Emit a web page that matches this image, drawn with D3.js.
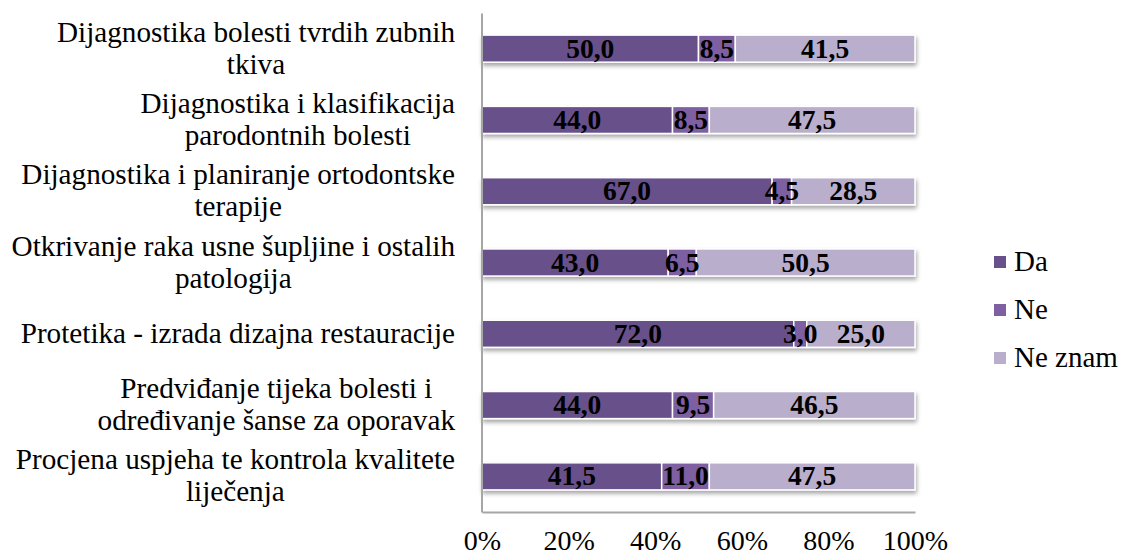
<!DOCTYPE html>
<html>
<head>
<meta charset="utf-8">
<script src="https://cdn.jsdelivr.net/npm/d3@7"></script>
<style>
  html, body { margin: 0; padding: 0; background: #ffffff; }
  svg { display: block; }
  text { font-family: "Liberation Serif", "Times New Roman", serif; }
</style>
</head>
<body>
<div id="chart"></div>
<script>
// ---- data ----
const categories = [
  ["Dijagnostika bolesti tvrdih zubnih", "tkiva"],
  ["Dijagnostika i klasifikacija", "parodontnih bolesti"],
  ["Dijagnostika i planiranje ortodontske", "terapije"],
  ["Otkrivanje raka usne šupljine i ostalih", "patologija"],
  ["Protetika - izrada dizajna restauracije"],
  ["Predviđanje tijeka bolesti i", "određivanje šanse za oporavak"],
  ["Procjena uspjeha te kontrola kvalitete", "liječenja"]
];
const seriesNames = ["Da", "Ne", "Ne znam"];
const daValues    = [50.0, 44.0, 67.0, 43.0, 72.0, 44.0, 41.5];
const neValues    = [8.5, 8.5, 4.5, 6.5, 3.0, 9.5, 11.0];
const neZnamValues= [41.5, 47.5, 28.5, 50.5, 25.0, 46.5, 47.5];
const xTicks = [0, 20, 40, 60, 80, 100];
const colors = ["#68518a", "#7d5fa2", "#b9aecc"];

// ---- layout ----
const W = 1126, H = 558;
const plot = { left: 482, right: 915, top: 13, bottom: 512 };
const FONT = "Liberation Serif, Times New Roman, serif";

const svg = d3.select("#chart").append("svg").attr("width", W).attr("height", H);

const defs = svg.append("defs");
const f = defs.append("filter").attr("id", "shadow")
  .attr("x", "-5%").attr("y", "-30%").attr("width", "110%").attr("height", "180%");
f.append("feDropShadow").attr("dx", 1).attr("dy", 3).attr("stdDeviation", 2)
  .attr("flood-color", "#000").attr("flood-opacity", 0.35);

const idx = d3.range(categories.length);
const y = d3.scaleBand().domain(idx).range([plot.top, plot.bottom]).paddingInner(0.62).paddingOuter(0.31);
const x = d3.scaleLinear().domain([0, 100]).range([plot.left, plot.right]);

const rows = idx.map(i => {
  const vals = [daValues[i], neValues[i], neZnamValues[i]];
  let acc = 0;
  return vals.map((v, s) => { const r = { i, s, x0: acc, x1: acc + v, v }; acc += v; return r; });
});

// bars
const gRows = svg.append("g").selectAll("g.row").data(rows).join("g").attr("class", "row")
  .attr("filter", "url(#shadow)");
gRows.selectAll("rect").data(d => d).join("rect")
  .attr("x", d => x(d.x0))
  .attr("y", d => y(d.i))
  .attr("width", d => x(d.x1) - x(d.x0))
  .attr("height", y.bandwidth())
  .attr("fill", d => colors[d.s])
  .attr("stroke", "#ffffff")
  .attr("stroke-width", 1.5);

// bar labels
const fmt = v => v.toFixed(1).replace(".", ",");
svg.append("g").selectAll("text").data(rows.flat()).join("text")
  .attr("x", d => x((d.x0 + d.x1) / 2))
  .attr("y", d => y(d.i) + y.bandwidth() / 2 + 9)
  .attr("text-anchor", "middle")
  .attr("font-family", FONT)
  .attr("font-size", 27.5)
  .attr("font-weight", "bold")
  .attr("fill", "#000")
  .text(d => fmt(d.v));

// axes lines
const axisColor = "#a6a6a6";
const yAxis = svg.append("g").attr("transform", `translate(${plot.left - 0.5},0)`)
  .call(d3.axisLeft(y).tickSize(0).tickFormat(""));
yAxis.select(".domain").attr("stroke", axisColor).attr("stroke-width", 2);
const xAxis = svg.append("g").attr("transform", `translate(0,${plot.bottom})`)
  .call(d3.axisBottom(x).tickValues(xTicks).tickSize(0).tickFormat(d => d + "%").tickPadding(18));
xAxis.select(".domain").attr("stroke", axisColor).attr("stroke-width", 2);
xAxis.attr("font-family", FONT);
xAxis.selectAll("text").attr("font-size", 28).attr("fill", "#000").attr("font-family", FONT);

// category labels (wrapped, centered within block, block right-aligned)
const labelRight = 455, lineH = 32, catFont = 29.2;
const gCat = svg.append("g");
idx.forEach(i => {
  const lines = categories[i];
  const g = gCat.append("g");
  const texts = lines.map((ln, k) => g.append("text")
    .attr("font-family", FONT).attr("font-size", catFont).attr("fill", "#000").text(ln));
  const widths = texts.map(t => t.node().getComputedTextLength());
  const bw = d3.max(widths);
  const cx = labelRight - bw / 2;
  const cy = y(i) + y.bandwidth() / 2;
  texts.forEach((t, k) => {
    t.attr("x", cx).attr("text-anchor", "middle")
     .attr("y", cy + (k - (lines.length - 1) / 2) * lineH + 9);
  });
});

// legend
const leg = svg.append("g").attr("transform", "translate(994,262)");
seriesNames.forEach((n, s) => {
  const g = leg.append("g").attr("transform", `translate(0,${s * 48})`);
  g.append("rect").attr("x", 0).attr("y", -6).attr("width", 12).attr("height", 12).attr("fill", colors[s]);
  g.append("text").attr("x", 20).attr("y", 9).attr("font-family", FONT).attr("font-size", 29).attr("fill", "#000").text(n);
});
</script>
</body>
</html>
